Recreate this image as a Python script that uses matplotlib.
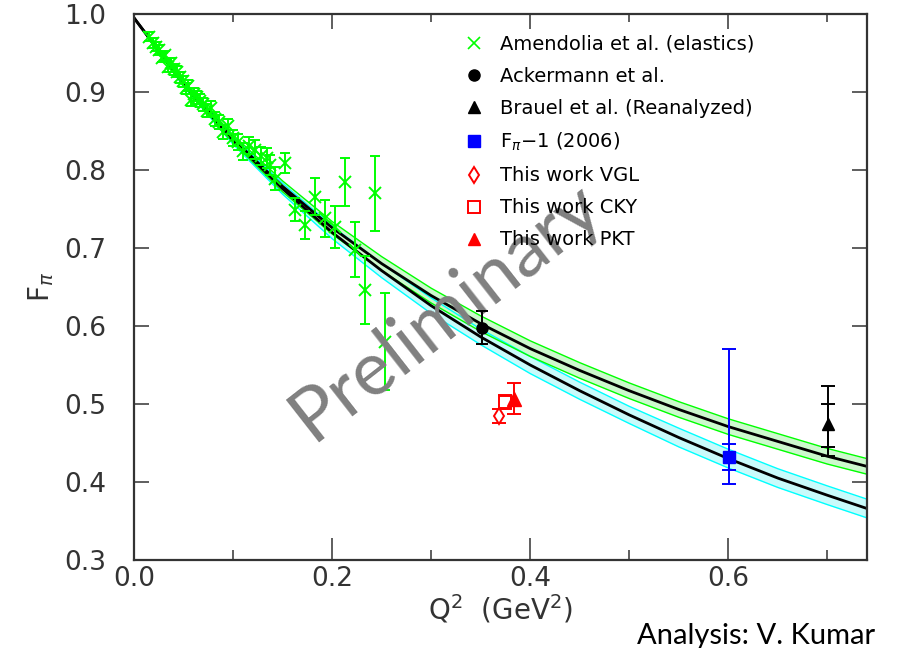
import numpy as np
import matplotlib.pyplot as plt
from matplotlib.lines import Line2D

# ---- curves (Q^2 in GeV^2) ----
q2_curve = [0.00, 0.05, 0.10, 0.15, 0.20, 0.25, 0.30, 0.35, 0.40,
            0.45, 0.50, 0.55, 0.60, 0.65, 0.70, 0.74]
f_upper = [0.995, 0.911, 0.840, 0.779, 0.726, 0.680, 0.639, 0.603, 0.571,
           0.543, 0.517, 0.493, 0.471, 0.452, 0.433, 0.420]
f_lower = [0.995, 0.910, 0.838, 0.776, 0.720, 0.671, 0.626, 0.586, 0.550,
           0.517, 0.486, 0.457, 0.430, 0.405, 0.383, 0.366]
band_upper = [0.0, 0.003, 0.005, 0.007, 0.008, 0.009, 0.0095, 0.010, 0.010,
              0.010, 0.010, 0.010, 0.010, 0.010, 0.010, 0.010]
band_lower = [0.0, 0.003, 0.005, 0.007, 0.008, 0.009, 0.010, 0.010, 0.011,
              0.011, 0.011, 0.012, 0.012, 0.012, 0.012, 0.012]

# ---- Amendolia et al. (elastics) ----
amd_q2 = [0.015, 0.019, 0.022, 0.025, 0.028, 0.031, 0.034, 0.037, 0.040, 0.043,
          0.046, 0.049, 0.052, 0.055, 0.058, 0.061, 0.064, 0.067, 0.070, 0.074,
          0.078, 0.082, 0.086, 0.090, 0.095, 0.100, 0.105, 0.110, 0.116, 0.122,
          0.128, 0.134, 0.137, 0.142, 0.1525, 0.163, 0.173, 0.183, 0.193, 0.203,
          0.213, 0.223, 0.233, 0.2435, 0.2535]
amd_f = [0.971, 0.963, 0.958, 0.954, 0.944, 0.947, 0.932, 0.937, 0.929, 0.926,
         0.919, 0.914, 0.905, 0.908, 0.890, 0.897, 0.893, 0.889, 0.884, 0.876,
         0.879, 0.866, 0.862, 0.849, 0.856, 0.841, 0.836, 0.824, 0.831, 0.826,
         0.818, 0.815, 0.806, 0.789, 0.809, 0.749, 0.7295, 0.766, 0.738, 0.727,
         0.785, 0.698, 0.646, 0.770, 0.580]
amd_err = [0.006, 0.006, 0.006, 0.006, 0.006, 0.006, 0.006, 0.006, 0.007, 0.007,
           0.007, 0.007, 0.007, 0.007, 0.008, 0.008, 0.008, 0.008, 0.008, 0.008,
           0.009, 0.009, 0.009, 0.009, 0.010, 0.010, 0.010, 0.011, 0.011, 0.012,
           0.012, 0.013, 0.013, 0.015, 0.013, 0.015, 0.018, 0.024, 0.024, 0.027,
           0.031, 0.035, 0.044, 0.048, 0.062]

# ---- other measurements ----
ack_q2, ack_f, ack_err = [0.351], [0.598], [0.021]
brauel_q2, brauel_f = [0.701], [0.474]
brauel_tot_lo, brauel_tot_hi = [0.041], [0.049]
brauel_st_lo, brauel_st_hi = [0.029], [0.026]
fpi1_q2, fpi1_f = [0.601], [0.432]
fpi1_tot_lo, fpi1_tot_hi = [0.035], [0.138]
fpi1_st = [0.017]
vgl_q2, vgl_f, vgl_err = [0.368], [0.485], [0.009]
cky_q2, cky_f, cky_err = [0.375], [0.502], [0.009]
pkt_q2, pkt_f, pkt_err = [0.384], [0.507], [0.020]

axis_col = '#333333'
lime = '#00ff00'
cyan = '#00ffff'
red = '#ff0000'
blue = '#0000ff'

fig = plt.figure(figsize=(8.97, 6.48), dpi=100)
ax = fig.add_axes([134 / 897, 1 - 560 / 648, (867 - 134) / 897, (560 - 14) / 648])

q = np.array(q2_curve)
fu, fl = np.array(f_upper), np.array(f_lower)
bu, bl = np.array(band_upper), np.array(band_lower)

# error bands of the two fits
ax.fill_between(q, fl - bl, fl + bl, color='#c9fbfb', lw=0, zorder=1)
ax.plot(q, fl - bl, color=cyan, lw=1.0, zorder=1.5)
ax.plot(q, fl + bl, color=cyan, lw=1.0, zorder=1.5)
ax.fill_between(q, fu - bu, fu + bu, color='#cdf9cd', lw=0, zorder=1)
ax.plot(q, fu - bu, color=lime, lw=1.0, zorder=1.5)
ax.plot(q, fu + bu, color=lime, lw=1.0, zorder=1.5)
ax.plot(q, fl, color='black', lw=2.0, zorder=2)
ax.plot(q, fu, color='black', lw=2.0, zorder=2)

# data
ax.errorbar(amd_q2, amd_f, yerr=amd_err, fmt='x', color=lime, ms=8, mew=1.4,
            elinewidth=1.4, capsize=3.5, capthick=1.4, zorder=3)
ax.errorbar(ack_q2, ack_f, yerr=ack_err, fmt='o', color='black', ms=8,
            elinewidth=1.4, capsize=4, capthick=1.4, zorder=11)
ax.errorbar(brauel_q2, brauel_f, yerr=[brauel_tot_lo, brauel_tot_hi], fmt='^',
            color='black', ms=9, elinewidth=1.4, capsize=5, capthick=1.4, zorder=4)
ax.errorbar(brauel_q2, brauel_f, yerr=[brauel_st_lo, brauel_st_hi], fmt='none',
            ecolor='black', elinewidth=1.4, capsize=5, capthick=1.4, zorder=4)
ax.errorbar(fpi1_q2, fpi1_f, yerr=[fpi1_tot_lo, fpi1_tot_hi], fmt='s',
            color=blue, ms=9, elinewidth=1.4, capsize=5, capthick=1.4, zorder=4)
ax.errorbar(fpi1_q2, fpi1_f, yerr=fpi1_st, fmt='none', ecolor=blue,
            elinewidth=1.4, capsize=5, capthick=1.4, zorder=4)
ax.errorbar(vgl_q2, vgl_f, yerr=vgl_err, fmt='d', color=red, mfc='white',
            mec=red, ms=8, mew=1.4, elinewidth=1.4, capsize=5, capthick=1.4, zorder=4)
ax.errorbar(cky_q2, cky_f, yerr=cky_err, fmt='s', color=red, mfc='white',
            mec=red, ms=9, mew=1.4, elinewidth=1.4, capsize=5, capthick=1.4, zorder=4)
ax.errorbar(pkt_q2, pkt_f, yerr=pkt_err, fmt='^', color=red, ms=10,
            elinewidth=1.4, capsize=5, capthick=1.4, zorder=5)

ax.set_xlim(0, 0.74)
ax.set_ylim(0.3, 1.0)
ax.set_xticks([0.0, 0.2, 0.4, 0.6])
ax.set_xticks([0.1, 0.3, 0.5, 0.7], minor=True)
ax.set_xticklabels(['0.0', '0.2', '0.4', '0.6'])
ax.set_yticks(np.arange(0.3, 1.01, 0.1))
ax.set_yticklabels(['0.3', '0.4', '0.5', '0.6', '0.7', '0.8', '0.9', '1.0'])
ax.tick_params(axis='x', which='major', direction='in', length=16, width=1.1,
               color=axis_col, labelsize=19, labelcolor=axis_col, pad=4)
ax.tick_params(axis='x', which='minor', direction='in', length=7, width=1.1,
               color=axis_col)
ax.tick_params(axis='y', which='major', direction='in', length=11, width=1.1,
               color=axis_col, labelsize=19, labelcolor=axis_col, pad=20,
               right=True)
top = ax.secondary_xaxis('top')
top.set_xticks([0.0, 0.2, 0.4, 0.6])
top.set_xticks([0.1, 0.3, 0.5, 0.7], minor=True)
top.set_xticklabels([])
top.tick_params(which='major', direction='in', length=11, width=1.1, color=axis_col)
top.tick_params(which='minor', direction='in', length=6, width=1.1, color=axis_col)
top.spines['top'].set_visible(False)
for s in ax.spines.values():
    s.set_color(axis_col)
    s.set_linewidth(1.6)

ax.set_xlabel(r'Q$^2$  (GeV$^2$)', fontsize=20, color=axis_col, labelpad=1)
ax.set_ylabel(r'F$_\pi$', fontsize=20, color=axis_col, labelpad=6)

# legend
handles = [
    Line2D([], [], ls='none', marker='x', color=lime, ms=8, mew=1.2),
    Line2D([], [], ls='none', marker='o', color='black', ms=8),
    Line2D([], [], ls='none', marker='^', color='black', ms=8),
    Line2D([], [], ls='none', marker='s', color=blue, ms=9),
    Line2D([], [], ls='none', marker='d', color=red, mfc='white', ms=8, mew=1.4),
    Line2D([], [], ls='none', marker='s', color=red, mfc='white', ms=9, mew=1.4),
    Line2D([], [], ls='none', marker='^', color=red, ms=9),
]
labels = ['Amendolia et al. (elastics)', 'Ackermann et al.',
          'Brauel et al. (Reanalyzed)', r'F$_\pi$$-$1 (2006)',
          'This work VGL', 'This work CKY', 'This work PKT']
fig.legend(handles, labels, loc='upper left',
           bbox_to_anchor=(464 / 897, 1 - 35 / 648), frameon=False,
           fontsize=14, handlelength=1.0, handletextpad=0.85,
           labelspacing=0.67, borderpad=0, borderaxespad=0)

ax.text(0.425, 0.455, 'Preliminary', transform=ax.transAxes, rotation=38,
        ha='center', va='center', fontsize=54, family='Lato', color='#808080',
        zorder=10)
fig.text(0.976, 4 / 648, 'Analysis: V. Kumar', ha='right', va='baseline',
         fontsize=21, family='Lato', color='black')

fig.savefig('out.png', dpi=100)
